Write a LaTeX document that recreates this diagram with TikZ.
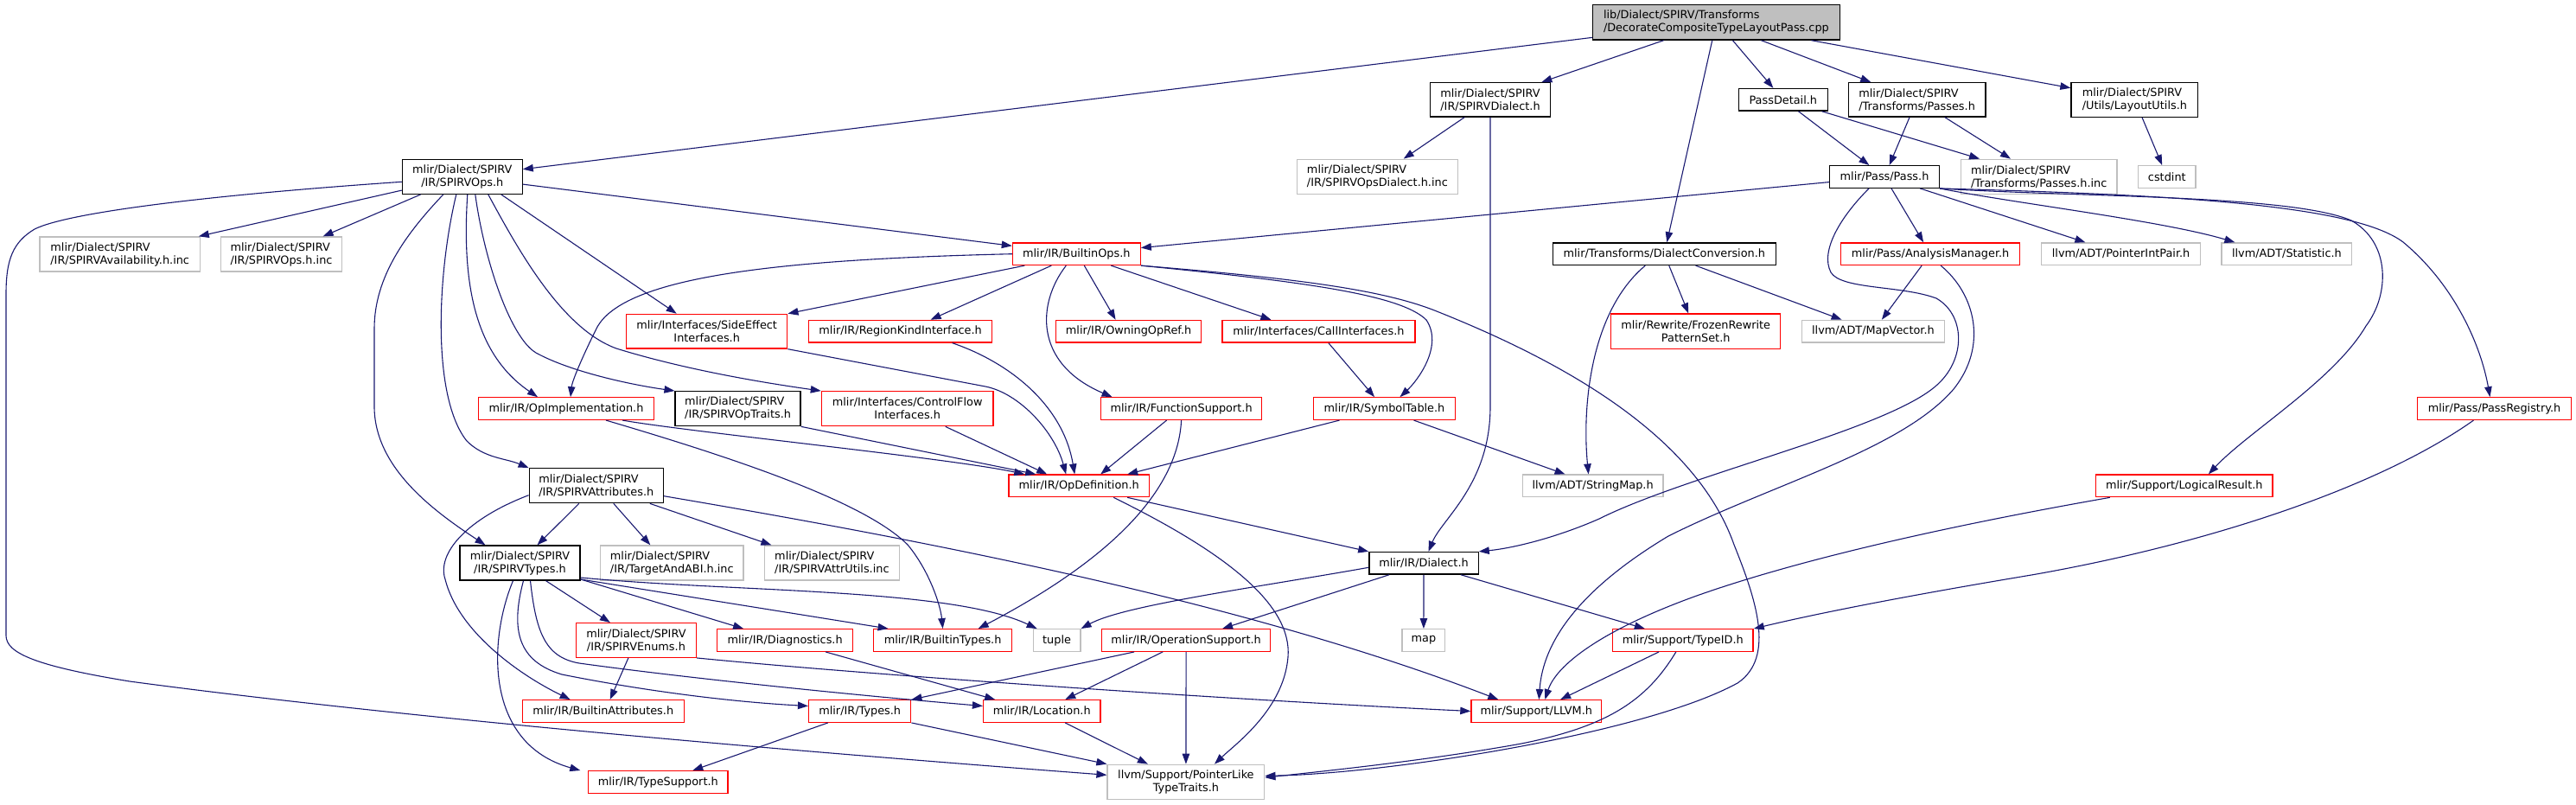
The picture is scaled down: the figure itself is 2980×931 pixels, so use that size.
\documentclass[tikz,border=0pt]{standalone}
\usepackage{fontspec}
\setmainfont{DejaVu Sans}
\usetikzlibrary{arrows.meta}
\definecolor{edgec}{HTML}{191970}
\definecolor{grayb}{HTML}{BFBFBF}
\definecolor{redb}{HTML}{FF0000}
\newcommand\nodefnt{\fontsize{12.85pt}{15pt}\selectfont}
\begin{document}
\begin{tikzpicture}[x=1pt,y=-1pt,
  nb/.style={draw=black, fill=white, line width=1.3pt, inner sep=0pt, align=center, font=\nodefnt, minimum height=25.6pt},
  nr/.style={nb, draw=redb},
  ng/.style={nb, draw=grayb},
  nroot/.style={nb, fill=grayb},
  e/.style={draw=edgec, line width=1.1pt, -{Triangle[length=12pt,width=8.5pt]}}]
\useasboundingbox (0,0) rectangle (2980,931);
% rank 0
\node[nroot, align=left, minimum width=285.5pt, minimum height=40.3pt] (root) at (1985.4,25.9) {lib/Dialect/SPIRV/Transforms\\/DecorateCompositeTypeLayoutPass.cpp};
% rank 1
\node[nb, align=left, minimum width=138.7pt, minimum height=39.3pt] (sdial) at (1724,115.3) {mlir/Dialect/SPIRV\\/IR/SPIRVDialect.h};
\node[nb, minimum width=102.8pt] (pdet) at (2062.8,115.3) {PassDetail.h};
\node[nb, align=left, minimum width=158.9pt, minimum height=39.3pt] (passes) at (2217.6,115.3) {mlir/Dialect/SPIRV\\/Transforms/Passes.h};
\node[nb, align=left, minimum width=146.8pt, minimum height=40pt] (lay) at (2469.4,115.3) {mlir/Dialect/SPIRV\\/Utils/LayoutUtils.h};
% rank 2
\node[nb, align=center, minimum width=138.7pt, minimum height=40pt] (sops) at (534.8,204.3) {mlir/Dialect/SPIRV\\/IR/SPIRVOps.h};
\node[ng, align=left, minimum width=186.5pt, minimum height=40pt] (odinc) at (1593.4,204.3) {mlir/Dialect/SPIRV\\/IR/SPIRVOpsDialect.h.inc};
\node[nb, minimum width=126.8pt] (pass) at (2180,204.5) {mlir/Pass/Pass.h};
\node[ng, align=left, minimum width=180.7pt, minimum height=40pt] (pinc) at (2358.7,204.3) {mlir/Dialect/SPIRV\\/Transforms/Passes.h.inc};
\node[ng, minimum width=66.5pt] (cstd) at (2506.8,204.5) {cstdint};
% rank 3
\node[ng, align=left, minimum width=185.6pt, minimum height=40pt] (avinc) at (138.7,294) {mlir/Dialect/SPIRV\\/IR/SPIRVAvailability.h.inc};
\node[ng, align=left, minimum width=140.2pt, minimum height=40pt] (opsinc) at (325.5,294) {mlir/Dialect/SPIRV\\/IR/SPIRVOps.h.inc};
\node[nr, minimum width=147.8pt] (bops) at (1245.3,293.7) {mlir/IR/BuiltinOps.h};
\node[nb, minimum width=258.2pt] (dconv) at (1925.3,293.7) {mlir/Transforms/DialectConversion.h};
\node[nr, minimum width=207.2pt] (am) at (2233.1,293.7) {mlir/Pass/AnalysisManager.h};
\node[ng, minimum width=184.2pt] (pip) at (2453.6,293.7) {llvm/ADT/PointerIntPair.h};
\node[ng, minimum width=150.7pt] (stat) at (2645.4,293.7) {llvm/ADT/Statistic.h};
% rank 4
\node[nr, align=center, minimum width=186.2pt, minimum height=39.7pt] (side) at (817.7,383.2) {mlir/Interfaces/SideEffect\\Interfaces.h};
\node[nr, minimum width=211.9pt] (region) at (1041.6,383.2) {mlir/IR/RegionKindInterface.h};
\node[nr, minimum width=167.9pt] (owning) at (1305.6,383.2) {mlir/IR/OwningOpRef.h};
\node[nr, minimum width=223pt] (call) at (1525.4,383.2) {mlir/Interfaces/CallInterfaces.h};
\node[nr, align=center, minimum width=196.1pt, minimum height=40.3pt] (frozen) at (1961.7,383.2) {mlir/Rewrite/FrozenRewrite\\PatternSet.h};
\node[ng, minimum width=165.5pt] (mapv) at (2166.9,383.2) {llvm/ADT/MapVector.h};
% rank 5
\node[nr, minimum width=203.3pt] (opimpl) at (655,472.6) {mlir/IR/OpImplementation.h};
\node[nb, align=left, minimum width=145pt, minimum height=40pt] (optr) at (853.6,472.7) {mlir/Dialect/SPIRV\\/IR/SPIRVOpTraits.h};
\node[nr, align=center, minimum width=198.6pt, minimum height=40pt] (cflow) at (1049.7,472.7) {mlir/Interfaces/ControlFlow\\Interfaces.h};
\node[nr, minimum width=185.6pt] (fsup) at (1366.6,472.6) {mlir/IR/FunctionSupport.h};
\node[nr, minimum width=163.6pt] (symt) at (1601.5,472.6) {mlir/IR/SymbolTable.h};
\node[nr, minimum width=178.4pt] (preg) at (2885.5,472.6) {mlir/Pass/PassRegistry.h};
% rank 6
\node[nb, align=left, minimum width=155.1pt, minimum height=40pt] (sattr) at (689.8,561.7) {mlir/Dialect/SPIRV\\/IR/SPIRVAttributes.h};
\node[nr, minimum width=162.2pt] (opdef) at (1248.2,561.9) {mlir/IR/OpDefinition.h};
\node[ng, minimum width=162.7pt] (smap) at (1842.6,561.9) {llvm/ADT/StringMap.h};
\node[nr, minimum width=204.2pt] (lres) at (2526.8,561.9) {mlir/Support/LogicalResult.h};
% rank 7
\node[nb, align=center, minimum width=139.2pt, minimum height=40pt] (stypes) at (601.5,651) {mlir/Dialect/SPIRV\\/IR/SPIRVTypes.h};
\node[ng, align=left, minimum width=165.5pt, minimum height=40pt] (tabi) at (777.3,651) {mlir/Dialect/SPIRV\\/IR/TargetAndABI.h.inc};
\node[ng, align=left, minimum width=156pt, minimum height=40pt] (autil) at (962.4,651) {mlir/Dialect/SPIRV\\/IR/SPIRVAttrUtils.inc};
\node[nb, minimum width=126.3pt] (dial) at (1647,651.3) {mlir/IR/Dialect.h};
% rank 8
\node[nr, align=center, minimum width=139.2pt, minimum height=39.6pt] (senum) at (735.9,740.5) {mlir/Dialect/SPIRV\\/IR/SPIRVEnums.h};
\node[nr, minimum width=157.4pt] (diag) at (908.1,740.5) {mlir/IR/Diagnostics.h};
\node[nr, minimum width=159.8pt] (btypes) at (1090.6,740.5) {mlir/IR/BuiltinTypes.h};
\node[ng, minimum width=54.6pt] (tuple) at (1222.6,740.5) {tuple};
\node[nr, minimum width=194.6pt] (opsup) at (1372.1,740.5) {mlir/IR/OperationSupport.h};
\node[ng, minimum width=49.8pt] (map) at (1646.9,740.5) {map};
\node[nr, minimum width=162.6pt] (tid) at (1946.8,740.5) {mlir/Support/TypeID.h};
% rank 9
\node[nr, minimum width=187.1pt] (battr) at (697.7,822.5) {mlir/IR/BuiltinAttributes.h};
\node[nr, minimum width=118.2pt] (irtypes) at (994.7,822.5) {mlir/IR/Types.h};
\node[nr, minimum width=135.3pt] (loc) at (1205.2,822.5) {mlir/IR/Location.h};
\node[nr, minimum width=150.7pt] (llvm) at (1777.3,822.5) {mlir/Support/LLVM.h};
% rank 10
\node[nr, minimum width=161.3pt] (tsup) at (761.3,904.5) {mlir/IR/TypeSupport.h};
\node[ng, align=center, minimum width=181.7pt, minimum height=40pt] (plike) at (1371.9,904.3) {llvm/Support/PointerLike\\TypeTraits.h};

% ---- edges ----
% root
\draw[e] (root) -- (sops);
\draw[e] (root) -- (sdial);
\draw[e] (root) -- (dconv);
\draw[e] ([xshift=19pt]root.south) -- (pdet);
\draw[e] ([xshift=52pt]root.south) -- (passes);
\draw[e] ([xshift=110pt]root.south) -- (lay);
% sdial
\draw[e] (sdial) -- (odinc);
\draw[e] (sdial) -- (1724,470) .. controls (1724,560) and (1668,600) .. (dial);
% pdet, passes, lay
\draw[e] (pdet) -- (pass);
\draw[e] (pdet) -- (pinc);
\draw[e] (passes) -- (pass);
\draw[e] (passes) -- (pinc);
\draw[e] (lay) -- (cstd);
% sops
\draw[e] (sops) -- (avinc);
\draw[e] (sops) -- (opsinc);
\draw[e] (sops) -- (bops);
\draw[e] ([yshift=-6pt]sops.west) .. controls (250,225) and (80,245) .. (40,265) .. controls (15,280) and (7,300) .. (7,340) -- (7,735) .. controls (7,755) and (40,770) .. (150,788) .. controls (500,835) and (1000,875) .. ([yshift=8pt]plike.west);
\draw[e] ([xshift=45pt]sops.south) -- ([xshift=-35pt]side.north);
\draw[e] ([xshift=6pt]sops.south) .. controls (534,330) and (550,410) .. ([xshift=-33pt]opimpl.north);
\draw[e] ([xshift=15pt]sops.south) .. controls (560,300) and (590,390) .. (620,408) .. controls (660,430) and (730,445) .. (optr.north west);
\draw[e] ([xshift=30pt]sops.south) .. controls (600,290) and (650,380) .. (713,403) .. controls (800,430) and (900,445) .. (cflow.north west);
\draw[e] ([xshift=-7pt]sops.south) .. controls (505,320) and (500,460) .. (540,510) .. controls (560,530) and (585,530) .. (sattr.north west);
\draw[e] ([xshift=-22pt]sops.south) .. controls (470,270) and (433,320) .. (433,380) -- (433,470) .. controls (433,540) and (500,590) .. ([xshift=-40pt]stypes.north);
% bops
\draw[e] (bops.west) .. controls (900,300) and (720,320) .. (690,380) .. controls (675,410) and (662,440) .. ([xshift=5pt]opimpl.north);
\draw[e] ([xshift=-60pt]bops.south) -- (side.north east);
\draw[e] ([xshift=-29pt]bops.south) -- ([xshift=35pt]region.north);
\draw[e] ([xshift=9pt]bops.south) -- ([xshift=-15pt]owning.north);
\draw[e] ([xshift=40pt]bops.south) -- ([xshift=-55pt]call.north);
\draw[e] ([xshift=-12pt]bops.south) .. controls (1200,350) and (1195,420) .. ([xshift=-80pt]fsup.north);
\draw[e] (bops.south east) .. controls (1500,325) and (1620,340) .. (1650,370) .. controls (1670,400) and (1640,440) .. ([xshift=18pt]symt.north);
\draw[e] (bops.south east) .. controls (1500,322) and (1600,335) .. (1662,360) .. controls (1800,415) and (1960,500) .. (2006,630) .. controls (2030,690) and (2055,760) .. (2010,790) .. controls (1900,850) and (1600,895) .. ([yshift=7pt]plike.east);
% pass
\draw[e] (pass) -- (bops);
\draw[e] (pass) -- (am);
\draw[e] (pass) -- (pip);
\draw[e] (pass.south east) .. controls (2330,235) and (2500,255) .. ([xshift=-60pt]stat.north);
\draw[e] (pass.south east) .. controls (2400,228) and (2650,225) .. (2720,255) .. controls (2765,280) and (2765,340) .. (2737,377) .. controls (2700,440) and (2600,500) .. ([xshift=28pt]lres.north);
\draw[e] (pass.south east) .. controls (2500,225) and (2720,235) .. (2780,280) .. controls (2840,330) and (2870,400) .. ([xshift=-5pt]preg.north);
\draw[e] ([xshift=-18pt]pass.south) .. controls (2130,250) and (2105,290) .. (2118,315) .. controls (2130,335) and (2200,330) .. (2240,345) .. controls (2275,365) and (2275,420) .. (2235,450) .. controls (2170,500) and (1950,550) .. (1850,600) .. controls (1800,622) and (1750,634) .. (dial.north east);
% dconv
\draw[e] (dconv) -- (frozen);
\draw[e] (dconv) -- (mapv);
\draw[e] ([xshift=-22pt]dconv.south) .. controls (1840,360) and (1830,470) .. ([xshift=-5pt]smap.north);
% am
\draw[e] (am) -- (mapv);
\draw[e] ([xshift=12pt]am.south) .. controls (2285,340) and (2300,400) .. (2260,450) .. controls (2200,520) and (2050,560) .. (1930,620) .. controls (1830,680) and (1785,740) .. ([xshift=3pt]llvm.north);
% lres, preg
\draw[e] ([xshift=-86pt]lres.south) .. controls (2300,600) and (2100,640) .. (1960,690) .. controls (1850,730) and (1800,770) .. ([xshift=10pt]llvm.north);
\draw[e] ([xshift=-24pt]preg.south) .. controls (2750,565) and (2550,630) .. (2350,665) .. controls (2200,690) and (2100,710) .. (tid.north east);
% sattr
\draw[e] ([xshift=-20pt]sattr.south) -- ([xshift=20pt]stypes.north);
\draw[e] ([xshift=20pt]sattr.south) -- ([xshift=-25pt]tabi.north);
\draw[e] ([xshift=62pt]sattr.south) -- ([xshift=-70pt]autil.north);
\draw[e] ([yshift=-11pt]sattr.west) .. controls (540,600) and (505,640) .. (515,670) .. controls (530,730) and (600,780) .. ([xshift=-38pt]battr.north);
\draw[e] ([yshift=-12pt]sattr.east) .. controls (1100,630) and (1450,700) .. ([xshift=-44pt]llvm.north);
% stypes
\draw[e] ([xshift=30pt]stypes.south) -- ([xshift=-30pt]senum.north);
\draw[e] ([yshift=-19pt]stypes.east) -- ([xshift=-48pt]diag.north);
\draw[e] ([yshift=-19pt]stypes.east) -- ([xshift=-63pt]btypes.north);
\draw[e] ([yshift=-17pt]stypes.east) .. controls (850,685) and (1100,680) .. ([xshift=-23pt]tuple.north);
\draw[e] ([xshift=-8pt]stypes.south) .. controls (565,740) and (560,860) .. ([xshift=-90pt]tsup.north);
\draw[e] ([xshift=4pt]stypes.south) .. controls (590,730) and (600,765) .. (650,780) .. controls (750,800) and (850,812) .. ([yshift=6pt]irtypes.west);
\draw[e] ([xshift=12pt]stypes.south) .. controls (620,730) and (630,760) .. (670,767) .. controls (800,785) and (1000,805) .. ([yshift=6pt]loc.west);
% senum, diag
\draw[e] ([xshift=-9pt]senum.south) -- ([xshift=8pt]battr.north);
\draw[e] (senum.south east) .. controls (1000,780) and (1400,808) .. (llvm.west);
\draw[e] ([xshift=47pt]diag.south) -- ([xshift=-54pt]loc.north);
% opsup
\draw[e] ([xshift=-60pt]opsup.south) -- (irtypes.north east);
\draw[e] ([xshift=-27pt]opsup.south) -- ([xshift=27pt]loc.north);
\draw[e] (opsup) -- (plike);
% irtypes, loc
\draw[e] ([xshift=-37pt]irtypes.south) -- ([xshift=40pt]tsup.north);
\draw[e] (irtypes.south east) -- (plike.north west);
\draw[e] ([xshift=27pt]loc.south) -- ([xshift=-44pt]plike.north);
% tid
\draw[e] (tid) -- (llvm);
\draw[e] ([xshift=-8pt]tid.south) .. controls (1905,810) and (1860,840) .. (1760,860) .. controls (1650,880) and (1520,893) .. ([yshift=5pt]plike.east);
% dial
\draw[e] ([yshift=-5pt]dial.west) .. controls (1450,680) and (1300,700) .. (tuple.north east);
\draw[e] ([xshift=-40pt]dial.south) -- ([xshift=42pt]opsup.north);
\draw[e] (dial) -- (map);
\draw[e] ([xshift=43pt]dial.south) -- ([xshift=-44pt]tid.north);
% opdef
\draw[e] ([xshift=56pt]opdef.south) -- (dial.north west);
\draw[e] ([xshift=40pt]opdef.south) .. controls (1420,640) and (1495,700) .. (1490,760) .. controls (1485,820) and (1430,860) .. ([xshift=33pt]plike.north);
% opimpl
\draw[e] ([xshift=65pt]opimpl.south) .. controls (800,500) and (1100,530) .. ([xshift=-63pt]opdef.north);
\draw[e] ([xshift=46pt]opimpl.south) .. controls (850,530) and (1000,580) .. (1050,630) .. controls (1075,660) and (1088,700) .. (btypes.north);
% rank 5 -> opdef etc.
\draw[e] (optr.south east) -- ([xshift=-50pt]opdef.north);
\draw[e] ([xshift=44pt]cflow.south) -- ([xshift=-37pt]opdef.north);
\draw[e] (side.south east) -- (1140,447) .. controls (1180,455) and (1220,500) .. ([xshift=-15pt]opdef.north);
\draw[e] ([xshift=60pt]region.south) .. controls (1170,420) and (1230,470) .. ([xshift=-5pt]opdef.north);
\draw[e] ([xshift=-17pt]fsup.south) -- ([xshift=25pt]opdef.north);
\draw[e] (fsup.south) .. controls (1362,580) and (1260,660) .. ([xshift=41pt]btypes.north);
\draw[e] ([xshift=-52pt]symt.south) -- ([xshift=56pt]opdef.north);
\draw[e] ([xshift=34pt]symt.south) -- ([xshift=-32pt]smap.north);
\draw[e] (call) -- (symt);
\end{tikzpicture}
\end{document}
